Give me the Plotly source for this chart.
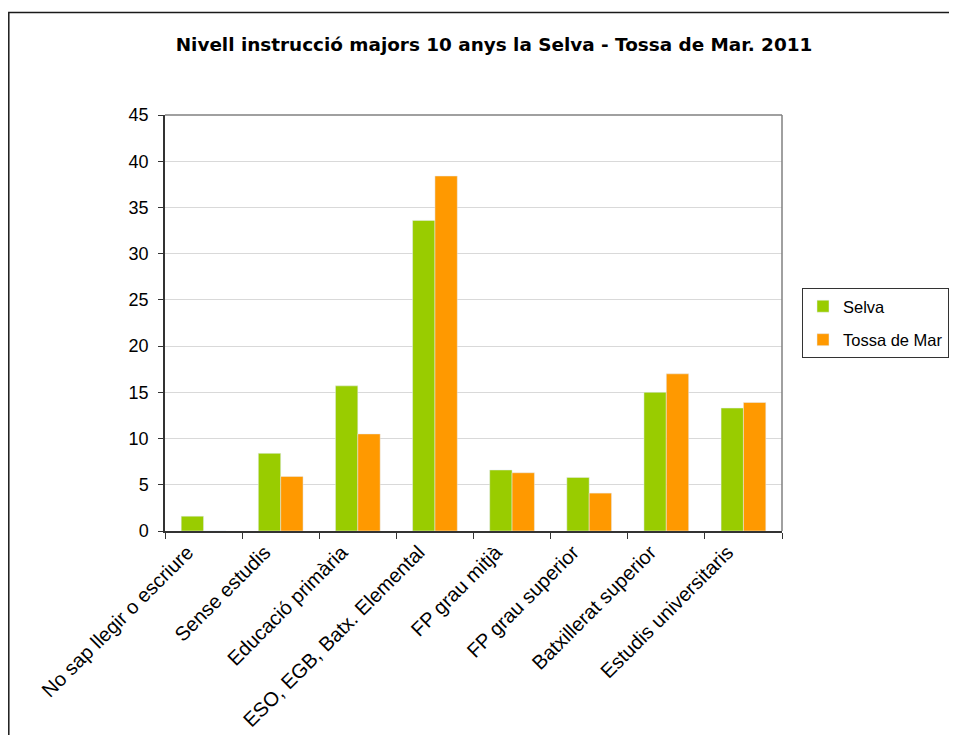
import plotly.graph_objects as go

categories = ["No sap llegir o escriure", "Sense estudis", "Educació primària",
              "ESO, EGB, Batx. Elemental", "FP grau mitjà", "FP grau superior",
              "Batxillerat superior", "Estudis universitaris"]
selva = [1.6, 8.4, 15.7, 33.6, 6.6, 5.8, 15.0, 13.3]
tossa = [0.0, 5.9, 10.5, 38.4, 6.3, 4.1, 17.0, 13.9]
y_ticks = [0, 5, 10, 15, 20, 25, 30, 35, 40, 45]

OFF = 8  # page body margin
W, H = 957 - OFF, 743 - 2 * OFF
L, R, T, B = 165 - OFF, 782 - OFF, 115 - OFF, 531 - OFF
pw, ph = R - L, B - T

def px(x):
    return (x - OFF - L) / pw

def py(y):
    return (B - (y - OFF)) / ph

fig = go.Figure()
fig.add_trace(go.Bar(x=categories, y=selva, name="Selva", marker_color="#99CC00",
                     legendgroup="a"))
fig.add_trace(go.Bar(x=categories, y=tossa, name="Tossa de Mar", marker_color="#FF9900",
                     legendgroup="b"))

font = "Liberation Sans, Arial, sans-serif"
fig.update_layout(
    width=W, height=H,
    margin=dict(l=L, r=W - R, t=T, b=H - B, pad=0, autoexpand=False),
    paper_bgcolor="white", plot_bgcolor="white",
    barmode="group", bargap=0.42, bargroupgap=0,
    font=dict(family=font, size=15, color="black"),
    title=dict(text="<b>Nivell instrucció majors 10 anys la Selva - Tossa de Mar. 2011</b>",
               x=px(494), xref="paper", xanchor="center",
               y=1 - (45 - OFF) / H, yanchor="middle",
               font=dict(size=18.4, family="DejaVu Sans, sans-serif")),
    legend=dict(x=px(802), y=py(288), xanchor="left", yanchor="top",
                bordercolor="#333333", borderwidth=1, bgcolor="white",
                font=dict(size=16.5, family=font), tracegroupgap=9,
                itemwidth=30),
    showlegend=True,
)
fig.update_xaxes(type="category", tickangle=-45, tickson="boundaries",
                 ticks="outside", ticklen=6, tickcolor="#333333", automargin=False,
                 ticklabelshift=-16,
                 showline=True, linecolor="#333333", linewidth=1.5, mirror=False,
                 tickfont=dict(size=20, family=font), showgrid=False)
fig.update_yaxes(range=[0, 45], tickvals=y_ticks, ticks="outside", ticklen=5,
                 tickcolor="#333333", showline=True, linecolor="#333333", linewidth=1.5,
                 gridcolor="#D9D9D9", gridwidth=1, zeroline=False, automargin=False,
                 ticklabelstandoff=6,
                 tickfont=dict(size=18, family=font))

# plot-area frame (top and right)
fig.add_shape(type="line", xref="paper", yref="paper", x0=0, x1=1, y0=1, y1=1,
              line=dict(color="#808080", width=1.5))
fig.add_shape(type="line", xref="paper", yref="paper", x0=1, x1=1, y0=0, y1=1,
              line=dict(color="#808080", width=1.5))
# outer chart border
fig.add_shape(type="rect", xref="paper", yref="paper",
              x0=px(OFF + 0.8), x1=px(975), y0=py(760), y1=py(12.5),
              line=dict(color="#1a1a1a", width=1.5), layer="above")

fig.write_html("out.html")
